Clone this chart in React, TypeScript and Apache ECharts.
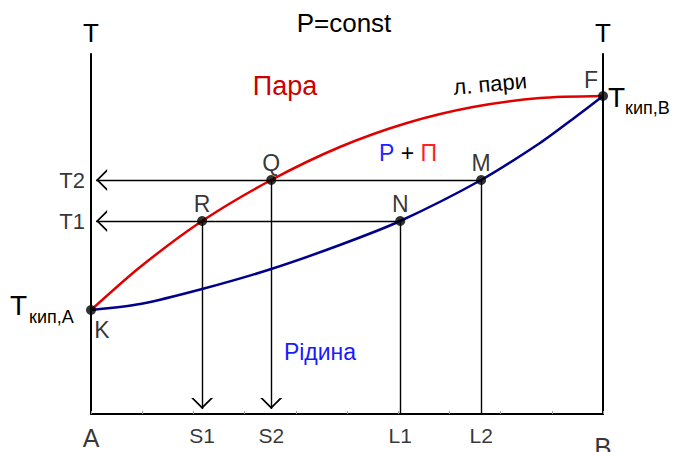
import React, { useEffect, useRef } from 'react';
import * as echarts from 'echarts';

// Vapour line (red) and liquid line (blue): x = composition (0..100), y = temperature (0..360)
const redX = [0, 9.6, 21.7, 35.2, 48.6, 61.7, 74.6, 87.7, 100];
const redY = [104, 147, 193, 234, 267, 291, 307, 316, 318];
const blueX = [0, 9.6, 21.7, 35.2, 48.6, 60.4, 76.2, 87.7, 94.1, 100];
const blueY = [104, 110, 125, 145, 169, 193, 234, 271, 295, 318];

const pointNames = ['K', 'R', 'Q', 'N', 'M', 'F'];
const pointX = [0, 21.7, 35.2, 60.4, 76.2, 100];
const pointY = [104, 193, 234, 193, 234, 318];

const tempLabels = ['T1', 'T2'];
const tempY = [193, 234];

const compLabels = ['A', 'S1', 'S2', 'L1', 'L2', 'B'];
const compX = [0, 21.7, 35.2, 60.4, 76.2, 100];

const FONT = 'Liberation Sans, Arial, sans-serif';
const CHEVRON = 'path://M5,-12 L5.01,-12 L5,-11.99 Z M5,0 L10,12 L8.9,12 L5,2.6 L1.1,12 L0,12 Z';

export default function App() {
  const ref = useRef<HTMLDivElement>(null);

  useEffect(() => {
    if (!ref.current) return;
    document.body.style.margin = '0';
    const chart = echarts.init(ref.current, null, { renderer: 'svg' });

    const pt = (n: string) => {
      const i = pointNames.indexOf(n);
      return [pointX[i], pointY[i]];
    };
    const arrowLines = [
      { coords: [pt('M'), [1.0, pt('M')[1]]] },
      { coords: [pt('N'), [1.0, pt('N')[1]]] },
      { coords: [pt('R'), [pt('R')[0], 5]] },
      { coords: [pt('Q'), [pt('Q')[0], 5]] },
    ];
    const plainLines = [
      { coords: [pt('N'), [pt('N')[0], 0]] },
      { coords: [pt('M'), [pt('M')[0], 0]] },
    ];

    const pointLabel: Record<string, any> = {
      K: { position: 'bottom', distance: 3, offset: [11, 0] },
      R: { position: 'top', distance: 1 },
      Q: { position: 'top', distance: 1 },
      N: { position: 'top', distance: 1 },
      M: { position: 'top', distance: 1 },
      F: { position: 'top', distance: 0, offset: [-12, 0] },
    };

    const compStyle: Record<string, any> = {
      A: { fontSize: 25, distance: 11 },
      B: { fontSize: 26, distance: 20 },
    };

    const axisT = {
      type: 'value',
      min: 0,
      max: 360,
      axisLine: { show: true, onZero: false, lineStyle: { color: '#000', width: 2 } },
      axisTick: { show: false },
      axisLabel: { show: false },
      splitLine: { show: false },
      name: 'T',
      nameLocation: 'end',
      nameGap: 8,
      nameTextStyle: { fontSize: 26, color: '#000', fontFamily: FONT, align: 'center' },
    };

    chart.setOption({
      animation: false,
      textStyle: { fontFamily: FONT },
      grid: { left: 91, right: 70, top: 54, bottom: 38 },
      xAxis: {
        type: 'value',
        min: 0,
        max: 100,
        interval: 10,
        axisLine: { show: true, lineStyle: { color: '#000', width: 2 } },
        axisTick: { show: true, inside: true, length: 3, lineStyle: { color: '#999', width: 1 } },
        axisLabel: { show: false },
        splitLine: { show: false },
      },
      yAxis: [
        { ...axisT, position: 'left' },
        { ...axisT, position: 'right' },
      ],
      series: [
        {
          type: 'line',
          data: redX.map((x, i) => [x, redY[i]]),
          smooth: 0.25,
          showSymbol: false,
          lineStyle: { color: '#e00000', width: 2.5 },
          z: 3,
        },
        {
          type: 'line',
          data: blueX.map((x, i) => [x, blueY[i]]),
          smooth: 0.25,
          showSymbol: false,
          lineStyle: { color: '#00008b', width: 2.5 },
          z: 3,
        },
        {
          type: 'lines',
          coordinateSystem: 'cartesian2d',
          data: arrowLines,
          symbol: ['none', CHEVRON],
          symbolSize: [7, 22],
          lineStyle: { color: '#000', width: 1.4, opacity: 1 },
          itemStyle: { color: '#000' },
          z: 2,
        },
        {
          type: 'lines',
          coordinateSystem: 'cartesian2d',
          data: plainLines,
          symbol: ['none', 'none'],
          lineStyle: { color: '#000', width: 1.4, opacity: 1 },
          z: 2,
        },
        {
          type: 'scatter',
          symbolSize: 10,
          itemStyle: { color: '#000' },
          z: 5,
          data: pointNames.map((n, i) => ({
            name: n,
            value: [pointX[i], pointY[i]],
            label: {
              show: true,
              formatter: n,
              fontSize: 23,
              color: '#000',
              ...pointLabel[n],
            },
          })),
        },
        {
          type: 'scatter',
          symbolSize: 0,
          silent: true,
          data: tempLabels.map((n, i) => ({
            name: n,
            value: [0, tempY[i]],
            label: { show: true, formatter: n, position: 'left', distance: 6, fontSize: 22, color: '#000' },
          })),
        },
        {
          type: 'scatter',
          symbolSize: 0,
          silent: true,
          data: compLabels.map((n, i) => ({
            name: n,
            value: [compX[i], 0],
            label: {
              show: true,
              formatter: n,
              position: 'bottom',
              fontSize: compStyle[n]?.fontSize ?? 21,
              lineHeight: compStyle[n]?.fontSize ?? 21,
              distance: compStyle[n]?.distance ?? 11,
              color: '#000',
            },
          })),
        },
      ],
      graphic: [
        { type: 'text', x: 344, y: 23, style: { text: 'P=const', font: `26px ${FONT}`, fill: '#000', textAlign: 'center', textVerticalAlign: 'middle' } },
        { type: 'text', x: 285, y: 86, style: { text: 'Пара', font: `27px ${FONT}`, fill: '#cc0000', textAlign: 'center', textVerticalAlign: 'middle' } },
        { type: 'text', x: 490, y: 84, rotation: 0.09, style: { text: 'л. пари', font: `22px ${FONT}`, fill: '#000', textAlign: 'center', textVerticalAlign: 'middle' } },
        {
          type: 'text', x: 408, y: 153,
          style: {
            text: '{b|Р} + {r|П}', font: `23px ${FONT}`, fill: '#000', textAlign: 'center', textVerticalAlign: 'middle',
            rich: { b: { fill: '#1f1fff', font: `23px ${FONT}` }, r: { fill: '#ff1f1f', font: `23px ${FONT}` } },
          },
        },
        { type: 'text', x: 320, y: 352, style: { text: 'Рідина', font: `23px ${FONT}`, fill: '#1a1aff', textAlign: 'center', textVerticalAlign: 'middle' } },
        { type: 'text', x: 10, y: 305, style: { text: 'T', font: `28px ${FONT}`, fill: '#000', textVerticalAlign: 'middle' } },
        { type: 'text', x: 29, y: 317, style: { text: 'кип,A', font: `18px ${FONT}`, fill: '#000', textVerticalAlign: 'middle' } },
        { type: 'text', x: 608, y: 97, style: { text: 'T', font: `28px ${FONT}`, fill: '#000', textVerticalAlign: 'middle' } },
        { type: 'text', x: 625, y: 108, style: { text: 'кип,B', font: `18px ${FONT}`, fill: '#000', textVerticalAlign: 'middle' } },
      ],
    });

    return () => chart.dispose();
  }, []);

  return <div ref={ref} style={{ width: 673, height: 452, background: '#fff' }} />;
}
